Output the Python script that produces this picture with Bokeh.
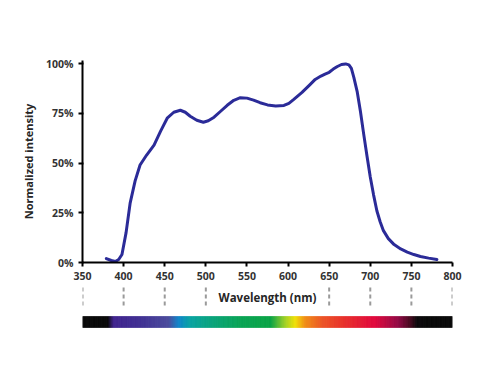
from bokeh.plotting import figure
from bokeh.layouts import column
from bokeh.models import FixedTicker, NumeralTickFormatter, Label, Range1d
from bokeh.embed import file_html
from bokeh.resources import INLINE
import numpy as np

# Spectrum curve (wavelength nm, normalized intensity)
wavelength = [379, 385, 390, 394, 398, 403, 408, 414, 420, 428, 437, 445, 453, 461, 469, 475,
              481, 489, 497, 503, 510, 518, 526, 534, 542, 550, 558, 566, 575, 585, 595, 601,
              607, 617, 627, 633, 640, 645, 650, 655, 660, 665, 670, 674, 677, 680, 684, 688,
              692, 696, 700, 704, 708, 712, 716, 722, 729, 737, 745, 753, 761, 771, 781]
intensity = [0.02, 0.01, 0.005, 0.015, 0.04, 0.15, 0.30, 0.41, 0.49, 0.54, 0.59, 0.66, 0.725, 0.755, 0.765, 0.755,
             0.735, 0.715, 0.705, 0.712, 0.73, 0.76, 0.79, 0.815, 0.828, 0.826, 0.816, 0.803, 0.792, 0.787, 0.789, 0.80,
             0.82, 0.855, 0.895, 0.92, 0.937, 0.947, 0.956, 0.972, 0.985, 0.995, 0.998, 0.993, 0.975, 0.93, 0.86, 0.76,
             0.645, 0.535, 0.43, 0.34, 0.26, 0.205, 0.16, 0.12, 0.09, 0.068, 0.052, 0.04, 0.03, 0.022, 0.015]

x_ticks = [350, 400, 450, 500, 550, 600, 650, 700, 750, 800]
y_ticks = [0, 0.25, 0.5, 0.75, 1.0]
dash_marks = [350, 400, 450, 500, 650, 700, 750, 800]

# Visible spectrum colour stops (wavelength nm, colour)
spec_wl = [350, 381, 388, 420, 455, 467, 481, 506, 542, 579, 597, 609, 621, 642, 664, 706, 734, 749, 757, 800]
spec_col = ["#000000", "#000000", "#3c1e8c", "#3a2a90", "#46469a", "#0a82c8", "#00a0a0", "#00a07a",
            "#00a050", "#00a040", "#a0d020", "#f0e000", "#f08a10", "#ec5020", "#e83024", "#e00038",
            "#900040", "#400018", "#050005", "#000000"]

FONT = "Open Sans"
W = 492

p = figure(width=W, height=286, x_range=Range1d(350, 800), y_range=Range1d(0, 1 + 3 / 199),
           output_backend="svg", toolbar_location=None,
           min_border_left=82, min_border_right=40, min_border_top=60, min_border_bottom=24)
p.outline_line_color = None
p.grid.visible = False

xa = p.xaxis[0]
xa.ticker = FixedTicker(ticks=x_ticks)
xa.axis_line_width = 2
xa.axis_line_color = "#000000"
xa.major_tick_out = 4
xa.major_tick_in = 0
xa.major_tick_line_width = 2
xa.minor_tick_line_color = None
xa.major_label_standoff = 5
xa.major_label_text_font = FONT
xa.major_label_text_font_style = "bold"
xa.major_label_text_font_size = "10.5px"
xa.major_label_text_color = "#333333"

ya = p.yaxis[0]
ya.ticker = FixedTicker(ticks=y_ticks)
ya.formatter = NumeralTickFormatter(format="0%")
ya.axis_line_width = 2
ya.axis_line_color = "#000000"
ya.major_tick_out = 4
ya.major_tick_in = 1
ya.major_tick_line_width = 2
ya.minor_tick_line_color = None
ya.major_label_standoff = 5
ya.major_label_text_font = FONT
ya.major_label_text_font_style = "bold"
ya.major_label_text_font_size = "10.5px"
ya.major_label_text_color = "#333333"
ya.axis_label = "Normalized intensity"
ya.axis_label_text_font = FONT
ya.axis_label_text_font_style = "bold"
ya.axis_label_text_font_size = "11px"
ya.axis_label_text_color = "#262626"
ya.axis_label_standoff = 7

p.line(wavelength, intensity, line_color="#2b2b98", line_width=3, line_join="round", line_cap="round")

# lower strip: dashed guides, axis title, spectrum bar (y in pixels below strip top)
q = figure(width=W, height=52, x_range=p.x_range, y_range=Range1d(-52, 0),
           output_backend="svg", toolbar_location=None, x_axis_type=None, y_axis_type=None,
           min_border_left=82, min_border_right=40, min_border_top=0, min_border_bottom=0)
q.outline_line_color = None
q.grid.visible = False

q.segment(x0=dash_marks, x1=dash_marks, y0=[-1] * len(dash_marks), y1=[-22] * len(dash_marks),
          line_color="#9a9a9a", line_width=2, line_dash="4 3")

q.add_layout(Label(x=575, y=-11, text="Wavelength (nm)", text_align="center", text_baseline="middle",
                   text_font=FONT, text_font_style="bold", text_font_size="11.5px", text_color="#262626"))

def hex2rgb(h):
    return np.array([int(h[i:i + 2], 16) for i in (1, 3, 5)], dtype=float)

grid = np.arange(350, 800, 1.0)
rgb = np.array([hex2rgb(c) for c in spec_col])
cols = []
for g in grid + 0.5:
    r = np.interp(g, spec_wl, rgb[:, 0])
    gg = np.interp(g, spec_wl, rgb[:, 1])
    b = np.interp(g, spec_wl, rgb[:, 2])
    cols.append("#%02x%02x%02x" % (int(r), int(gg), int(b)))
q.quad(left=grid, right=grid + 1.0, bottom=[-41] * len(grid), top=[-30] * len(grid),
       fill_color=cols, line_color=cols, line_width=0.5)

layout = column(p, q, spacing=0)
open("out.html", "w").write(file_html(layout, INLINE))
